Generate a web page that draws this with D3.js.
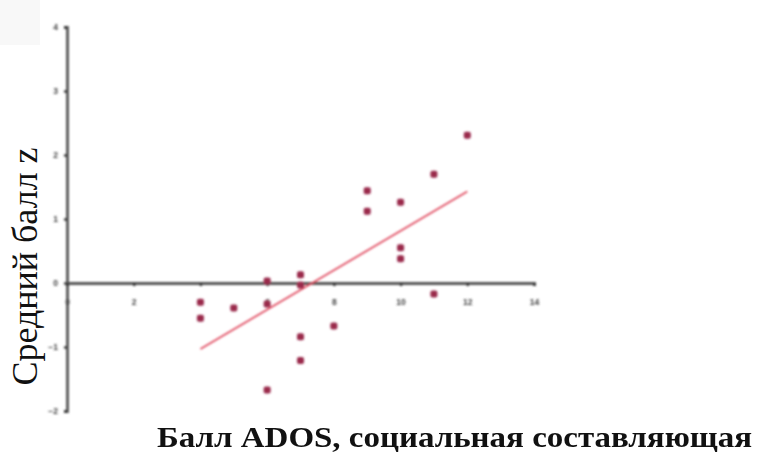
<!DOCTYPE html>
<html>
<head>
<meta charset="utf-8">
<script src="https://cdn.jsdelivr.net/npm/d3@7"></script>
<style>
  html, body { margin: 0; padding: 0; background: #fff; }
  svg { display: block; }
  .serif { font-family: "Liberation Serif", "Times New Roman", Times, serif; }
</style>
</head>
<body>
<svg id="chart" width="759" height="461"></svg>
<script>
// ADOS social score vs. mean z-score, with fitted regression line
const adosScore = [12, 11, 9, 9, 10, 10, 10, 6, 7, 7, 11, 4, 4, 5, 6, 8, 7, 7, 6];
const zScore    = [2.31, 1.70, 1.44, 1.12, 1.26, 0.55, 0.38, 0.03, 0.13, -0.03, -0.17,
                   -0.30, -0.55, -0.39, -0.33, -0.67, -0.84, -1.21, -1.67];
const fitX = [4, 12];
const fitY = [-1.03, 1.43];
const xTicks = [0, 2, 4, 6, 8, 10, 12, 14];
const yTicks = [-2, -1, 0, 1, 2, 3, 4];
const xTitle = "Балл ADOS, социальная составляющая";
const yTitle = "Средний балл z";

const svg = d3.select("#chart");

const x = d3.scaleLinear().domain([0, 14]).range([67, 534]);
const y = d3.scaleLinear().domain([-2, 4]).range([411, 27]);

const defs = svg.append("defs");
defs.append("filter").attr("id", "soft")
  .attr("x", "-5%").attr("y", "-5%").attr("width", "110%").attr("height", "110%")
  .append("feGaussianBlur").attr("stdDeviation", 0.9);

// faint paper tone in the corner
svg.append("rect").attr("x", 0).attr("y", 0).attr("width", 40).attr("height", 45)
  .attr("fill", "#f8f8f8");

const plot = svg.append("g").attr("filter", "url(#soft)");

function styleAxis(g) {
  g.select(".domain").attr("stroke", "#555").attr("stroke-width", 2.8);
  g.selectAll(".tick line").attr("stroke", "#333").attr("stroke-width", 2.4);
  g.selectAll(".tick text").attr("fill", "#444").attr("font-family", "Arial, sans-serif")
    .attr("font-size", 8.5).attr("font-weight", "bold");
}

// y axis through x = 0
const yAxis = d3.axisLeft(y).tickValues(yTicks).tickSize(3).tickPadding(6)
  .tickFormat(d3.format("d"));
plot.append("g").attr("transform", `translate(${x(0)},0)`).call(yAxis).call(styleAxis);

// x axis through y = 0, labels set a bit lower
const xAxis = d3.axisBottom(x).tickValues(xTicks).tickSize(3).tickPadding(13)
  .tickFormat(d3.format("d"));
plot.append("g").attr("transform", `translate(0,${y(0)})`).call(xAxis).call(styleAxis);

// regression line
const fit = fitX.map((d, i) => [d, fitY[i]]);
plot.append("path").datum(fit)
  .attr("d", d3.line().x(d => x(d[0])).y(d => y(d[1])))
  .attr("stroke", "#e0485e").attr("stroke-width", 1.7).attr("fill", "none");

// observations
const pts = adosScore.map((d, i) => ({ a: d, z: zScore[i] }));
plot.append("g").selectAll("rect").data(pts).join("rect")
  .attr("x", d => x(d.a) - 3.5).attr("y", d => y(d.z) - 3.5)
  .attr("width", 7).attr("height", 7).attr("rx", 2)
  .attr("fill", "#9a2a4c");

// axis titles
svg.append("text").attr("class", "serif")
  .attr("transform", `translate(37,${(148 + 385) / 2}) rotate(-90)`)
  .attr("text-anchor", "middle")
  .attr("font-size", 36).attr("fill", "#111")
  .text(yTitle);

svg.append("text").attr("class", "serif")
  .attr("x", 157).attr("y", 447)
  .attr("font-weight", "bold")
  .attr("font-size", 30).attr("fill", "#111")
  .attr("textLength", 595).attr("lengthAdjust", "spacingAndGlyphs")
  .text(xTitle);
</script>
</body>
</html>
